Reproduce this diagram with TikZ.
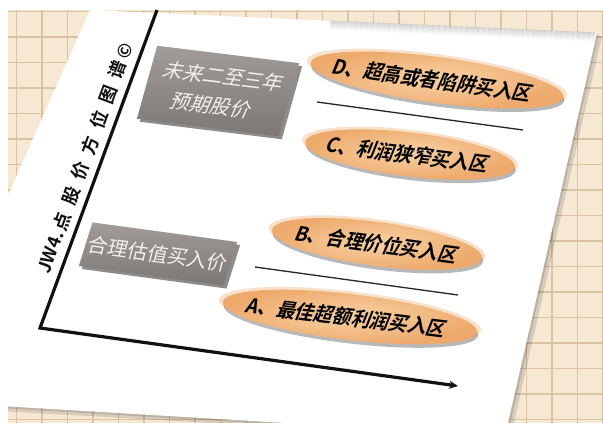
\documentclass[tikz,border=0pt]{standalone}
\usepackage{fontspec}
\usetikzlibrary{shapes.geometric,arrows.meta,shadows}
\newfontfamily\cjk{Noto Sans CJK SC}
\newfontfamily\cjkb[UprightFont=* Bold]{Noto Sans CJK SC}
\definecolor{gridbg}{HTML}{F7E8D4}
\definecolor{gridln}{HTML}{D9C3A3}
\definecolor{peachin}{HTML}{F9D2A6}
\definecolor{peachout}{HTML}{EDAA6C}
\definecolor{boxtop}{HTML}{A19C97}
\definecolor{boxbot}{HTML}{7C7772}
\definecolor{boxtext}{HTML}{F0F0F0}
\definecolor{axisink}{HTML}{111111}
\tikzset{
  zone/.style={ellipse, inner sep=0pt, shading=radial, inner color=peachin, outer color=peachout,
    general shadow={fill=peachout, opacity=.35, shadow yshift=2pt, shadow scale=1.03},
    general shadow={fill=black, opacity=.28, shadow xshift=1pt, shadow yshift=-3.5pt}},
  zonetext/.style={inner sep=0pt, font=\cjkb\fontsize{19.5}{20}\selectfont, text=black, xslant=0.28},
  graybox/.style={rectangle, inner sep=0pt, shading=axis, top color=boxtop, bottom color=boxbot,
    drop shadow={shadow xshift=3pt, shadow yshift=-3pt, opacity=.45, fill=black}},
  boxtxt/.style={inner sep=0pt, text=boxtext, align=center},
  sepline/.style={draw=black!85, line width=1.3pt},
  axisline/.style={draw=axisink, line width=3.2pt, line join=miter},
}
\begin{document}
\begin{tikzpicture}[x=1pt,y=-1pt]
\useasboundingbox (0,0) rectangle (603,423);
\fill[white] (0,0) rectangle (603,423);
\begin{scope}
  \clip (8,10) rectangle (603,423);
  \fill[gridbg] (8,10) rectangle (603,423);
  \foreach \i in {0,...,23} \draw[gridln, line width=1.2pt] ({16.5+25.5*\i},10) -- ++(0,413);
  \foreach \j in {0,...,16} \draw[gridln, line width=1.2pt] (8,{11.5+25.5*\j}) -- ++(595,0);
  % paper shadow and paper
  \fill[black, opacity=.12] (95,12) -- (602,36) -- (510,440) -- (0,411) -- (0,216) -- cycle;
  \fill[black, opacity=.12] (92,11) -- (599,34) -- (507,438) -- (0,408) -- (0,214) -- cycle;
  \fill[white] (90,10) -- (597,33) -- (505,436) -- (0,406) -- (0,213) -- cycle;
  \foreach \k in {0,...,8}
    \draw[black, opacity={0.14*(1-\k/9)}, line width=1.1pt] (330,{21.1+\k}) -- (595,{33+\k});
\end{scope}
% axes
\coordinate (Ytop) at (157,10);
\coordinate (O) at (40,328);
\coordinate (Xend) at (458,386);
\draw[axisline, -{Stealth[length=9pt,width=8pt]}] (Ytop) -- (O) -- (Xend);
\node[rotate=69.8, text=axisink, font=\cjkb\fontsize{18}{18}\selectfont] (ylab) at (85,158)
  {JW4.\kern2pt 点\kern9pt 股\kern9pt 价\kern9pt 方\kern9pt 位\kern9pt 图\kern9pt 谱\kern3pt ©};
% gray boxes
\node[graybox, minimum width=143pt, minimum height=75pt, rotate=-7, xslant=0.15] (P1) at (218,91) {};
\node[boxtxt, rotate=-7, xslant=0.3, font=\cjk\fontsize{20}{30}\selectfont] (P1t) at (P1) {未来二至三年\\预期股价};
\node[graybox, minimum width=146pt, minimum height=45pt, rotate=-7.7, xslant=0.17] (P2) at (158,254) {};
\node[boxtxt, rotate=-7.7, xslant=0.12, font=\cjk\fontsize{20}{22}\selectfont] (P2t) at (P2) {合理估值买入价};
% zones
\node[zone, minimum width=255pt, minimum height=46pt, rotate=-7.7] (D) at (437,80) {};
\node[zonetext, rotate=-7.7] (Dt) at ([xshift=-4pt]D.center) {D、超高或者陷阱买入区};
\node[zone, minimum width=211pt, minimum height=44pt, rotate=-6.8] (C) at (410,154.5) {};
\node[zonetext, rotate=-6.8] (Ct) at ([xshift=-2pt]C.center) {C、利润狭窄买入区};
\node[zone, minimum width=212pt, minimum height=44pt, rotate=-7.6] (B) at (377,244) {};
\node[zonetext, rotate=-7.6] (Bt) at (B.center) {B、合理价位买入区};
\node[zone, minimum width=256pt, minimum height=46pt, rotate=-6.7] (A) at (350,317) {};
\node[zonetext, rotate=-6.7] (At) at ([xshift=-3pt]A.center) {A、最佳超额利润买入区};
% separators
\coordinate (s1a) at (317,102);
\coordinate (s1b) at (523,130);
\coordinate (s2a) at (255,267);
\coordinate (s2b) at (458,295);
\draw[sepline] (s1a) -- (s1b);
\draw[sepline] (s2a) -- (s2b);
\end{tikzpicture}
\end{document}
